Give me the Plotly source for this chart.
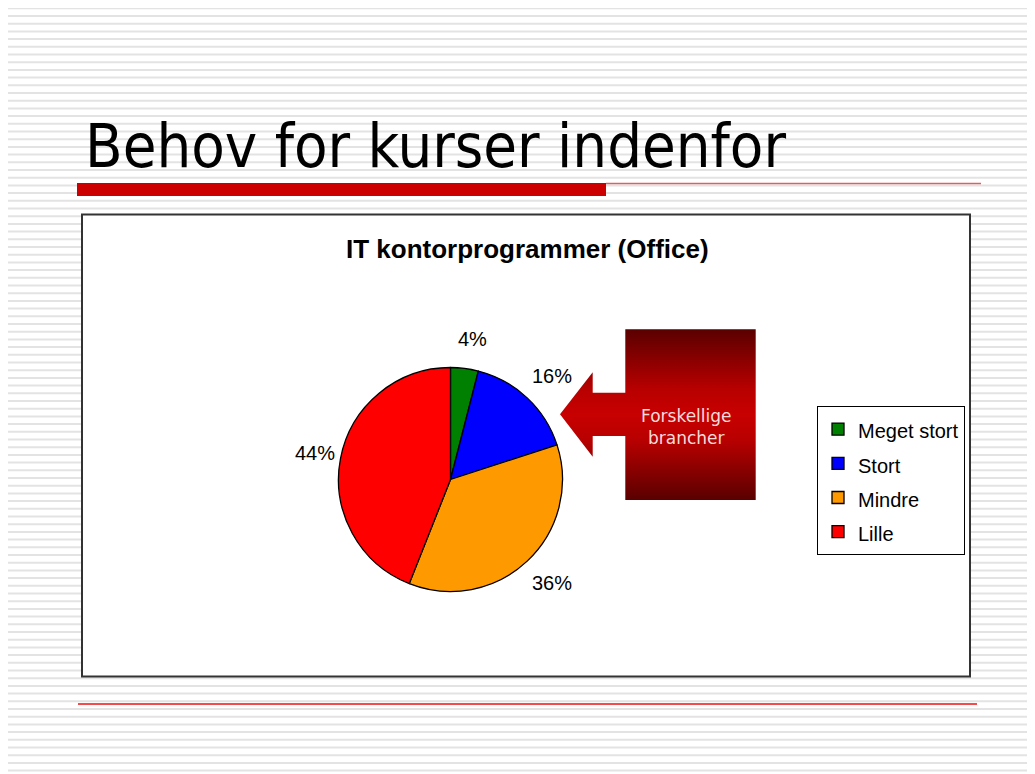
import math
import plotly.graph_objects as go

# ---- data ----
categories = ["Meget stort", "Stort", "Mindre", "Lille"]
values = [4, 16, 36, 44]
colors = ["#008000", "#0000FF", "#FF9900", "#FF0000"]
chart_title = "IT kontorprogrammer (Office)"
slide_title = "Behov for kurser indenfor"
callout_text = "Forskellige<br>brancher"

W, H = 1035, 774
OFF = 8  # page body margin: data coords == screen pixels
fig = go.Figure()

fig.update_xaxes(range=[OFF, W + OFF], visible=False, fixedrange=True)
fig.update_yaxes(range=[H + OFF, OFF], visible=False, fixedrange=True)

shapes = []
# striped background
y = 8.3
while y < H + OFF:
    shapes.append(dict(type="line", x0=8, x1=1030, y0=y, y1=y, xref="x", yref="y",
                       line=dict(color="#e3e3e3", width=2), layer="below"))
    y += 7.7
# chart box
shapes.append(dict(type="rect", x0=82, x1=970, y0=214.5, y1=676.5, xref="x", yref="y",
                   fillcolor="white", line=dict(color="#333333", width=2), layer="below"))
# red title bar and lines
shapes.append(dict(type="rect", x0=77, x1=606, y0=183, y1=196, xref="x", yref="y",
                   fillcolor="#CC0000", line=dict(width=0), layer="below"))
shapes.append(dict(type="line", x0=606, x1=981, y0=183.5, y1=183.5, xref="x", yref="y",
                   line=dict(color="#E06060", width=1.5), layer="below"))
shapes.append(dict(type="line", x0=78, x1=977, y0=704, y1=704, xref="x", yref="y",
                   line=dict(color="#F01010", width=1.5), layer="below"))

# callout arrow
ax = [560, 592.7, 592.7, 625.3, 625.3, 755.7, 755.7, 625.3, 625.3, 592.7, 592.7, 560]
ay = [414.3, 372.3, 392.7, 392.7, 329.3, 329.3, 500, 500, 436, 436, 456.7, 414.3]
fig.add_trace(go.Scatter(
    x=ax, y=ay, mode="lines", fill="toself", line=dict(width=0),
    fillgradient=dict(type="vertical",
                      colorscale=[[0, "#5A0000"], [0.35, "#B80000"], [0.5, "#C80000"],
                                  [0.65, "#B80000"], [1, "#5A0000"]]),
    hoverinfo="skip", showlegend=False))

# pie
cx, cy, r = 450.5, 479.5, 112
fig.add_trace(go.Pie(
    labels=[f"<span style='font-size:20px'>{c}</span>" for c in categories],
    values=values, sort=False, direction="clockwise", rotation=0,
    marker=dict(colors=colors, line=dict(color="black", width=1.3)),
    textinfo="none", hoverinfo="label+percent",
    domain=dict(x=[(cx - OFF - r) / W, (cx - OFF + r) / W],
                y=[(H + OFF - cy - r) / H, (H + OFF - cy + r) / H]),
    showlegend=True,
))

annotations = []
total = sum(values)
cum = 0
for v in values:
    mid = (cum + v / 2) / total * 2 * math.pi
    cum += v
    R = 142
    annotations.append(dict(x=cx + R * math.sin(mid), y=cy - R * math.cos(mid),
                            xref="x", yref="y", text=f"{round(v / total * 100)}%",
                            showarrow=False, xanchor="center", yanchor="middle", xshift=4,
                            font=dict(family="Liberation Sans, Arial", size=20, color="black")))
annotations.append(dict(x=527, y=249, xref="x", yref="y", text=f"<b>{chart_title}</b>",
                        showarrow=False, xanchor="center", yanchor="middle",
                        font=dict(family="Liberation Sans, Arial", size=26, color="black")))
annotations.append(dict(x=83, y=145, xref="x", yref="y", text=slide_title,
                        showarrow=False, xanchor="left", yanchor="middle",
                        font=dict(family="DejaVu Sans Condensed, DejaVu Sans", size=61, color="black")))
annotations.append(dict(x=686, y=427, xref="x", yref="y", text=callout_text,
                        showarrow=False, xanchor="center", yanchor="middle",
                        font=dict(family="DejaVu Sans, Verdana", size=17, color="#F5DCDC")))

fig.update_layout(
    width=W, height=H, autosize=False,
    margin=dict(l=0, r=0, t=0, b=0, pad=0),
    paper_bgcolor="white", plot_bgcolor="rgba(0,0,0,0)",
    shapes=shapes, annotations=annotations,
    legend=dict(x=(817 - OFF) / W, y=1 - (406 - OFF) / H, xanchor="left", yanchor="top",
                bgcolor="white", bordercolor="black", borderwidth=1,
                font=dict(family="Liberation Sans, Arial", size=24, color="black"),
                itemclick=False, itemdoubleclick=False),
)

fig.write_html("out.html")
